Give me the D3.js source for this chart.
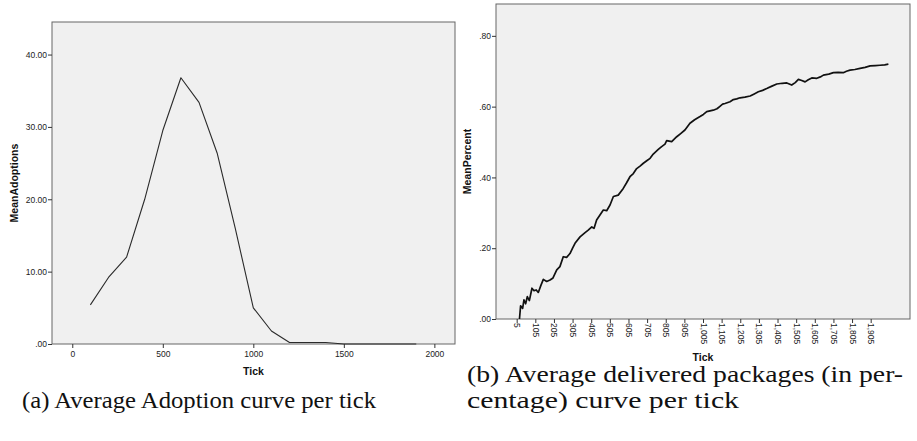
<!DOCTYPE html>
<html>
<head>
<meta charset="utf-8">
<script src="https://cdn.jsdelivr.net/npm/d3@7"></script>
<style>
body { margin: 0; background: #fff; }
.tick text { font-family: "Liberation Sans", Arial, sans-serif; font-size: 8.5px; fill: #222; }
.tick line { stroke: #333; }
.ttl { font-family: "Liberation Sans", Arial, sans-serif; font-size: 10.5px; font-weight: bold; fill: #111; }
</style>
</head>
<body>
<svg id="chart" width="917" height="441"></svg>
<script>
// (a) adoption per tick
var adoptTicks = [100, 200, 300, 400, 500, 600, 700, 800, 900, 1000, 1100, 1200, 1300, 1400, 1500, 1600, 1700, 1800, 1900];
var adoptVals  = [5.4, 9.2, 12.0, 20.0, 29.5, 36.8, 33.4, 26.4, 16.0, 5.0, 1.8, 0.2, 0.2, 0.2, 0, 0, 0, 0, 0];
var adoptXTicks = [0, 500, 1000, 1500, 2000];
var adoptYTicks = [0, 10, 20, 30, 40];

// (b) delivered percent per tick
var pctTicks = [20, 26, 37, 44, 53, 62, 73, 87, 98, 110, 121, 135, 148, 166, 184, 200, 220, 237, 255, 273,
  291, 305, 318, 345, 372, 389, 408, 420, 434, 452, 470, 488, 506, 524, 550, 577, 595, 613, 631, 649,
  667, 685, 703, 721, 738, 765, 783, 801, 810, 837, 864, 885, 908, 935, 960, 989, 1007, 1025, 1060, 1080,
  1096, 1110, 1123, 1150, 1168, 1186, 1204, 1230, 1258, 1280, 1302, 1325, 1347, 1375, 1401, 1430, 1455, 1481, 1500, 1517,
  1535, 1553, 1570, 1589, 1616, 1635, 1651, 1680, 1705, 1730, 1758, 1775, 1794, 1820, 1848, 1875, 1902, 1930, 1955, 1980, 2000];
var pctVals = [0, 0.037, 0.030, 0.054, 0.043, 0.063, 0.052, 0.087, 0.080, 0.082, 0.075, 0.095, 0.112, 0.106, 0.110, 0.116, 0.139, 0.148, 0.176, 0.174,
  0.185, 0.200, 0.214, 0.232, 0.244, 0.251, 0.260, 0.256, 0.280, 0.294, 0.308, 0.306, 0.322, 0.346, 0.350, 0.369, 0.385, 0.402, 0.411, 0.425,
  0.432, 0.440, 0.447, 0.454, 0.466, 0.479, 0.487, 0.494, 0.504, 0.501, 0.515, 0.524, 0.534, 0.553, 0.563, 0.572, 0.578, 0.586, 0.590, 0.594,
  0.601, 0.607, 0.609, 0.614, 0.620, 0.622, 0.625, 0.627, 0.630, 0.636, 0.642, 0.646, 0.651, 0.658, 0.664, 0.666, 0.667, 0.661, 0.668, 0.677,
  0.674, 0.670, 0.676, 0.681, 0.680, 0.684, 0.689, 0.692, 0.696, 0.697, 0.696, 0.700, 0.703, 0.705, 0.708, 0.711, 0.715, 0.716, 0.717, 0.718, 0.720];
var pctXTicks = d3.range(5, 2000, 100);
var pctYTicks = [0, 0.2, 0.4, 0.6, 0.8];

var svg = d3.select("#chart");

function panel(o) {
    var g = svg.append("g");
    var x = d3.scaleLinear().domain(o.xDomain).range([o.left, o.right]);
    var y = d3.scaleLinear().domain(o.yDomain).range([o.bottom, o.top]);

    g.append("rect")
        .attr("x", o.left).attr("y", o.top)
        .attr("width", o.right - o.left).attr("height", o.bottom - o.top)
        .attr("fill", "#f0f0f0").attr("stroke", "#666").attr("stroke-width", 1);

    var ya = g.append("g").attr("transform", "translate(" + o.left + ",0)")
        .call(d3.axisLeft(y).tickValues(o.yTicks).tickSize(4).tickPadding(1).tickFormat(o.yFmt));
    ya.select(".domain").remove();

    var xa = g.append("g").attr("transform", "translate(0," + o.bottom + ")")
        .call(d3.axisBottom(x).tickValues(o.xTicks).tickSize(4).tickPadding(3).tickFormat(o.xFmt));
    xa.select(".domain").remove();
    if (o.rotate) {
        xa.selectAll("text")
            .attr("transform", "rotate(90)")
            .attr("x", 4).attr("y", 0).attr("dy", "0.35em")
            .style("text-anchor", "start");
    }

    var line = d3.line()
        .x(function(d) { return x(d[0]); })
        .y(function(d) { return y(d[1]); });

    g.append("path")
        .datum(d3.zip(o.xs, o.ys))
        .attr("fill", "none")
        .attr("stroke", o.color)
        .attr("stroke-width", o.width)
        .attr("stroke-linejoin", "round")
        .attr("d", line);

    g.append("text").attr("class", "ttl")
        .attr("transform", "translate(" + o.yTitleX + "," + ((o.top + o.bottom) / 2) + ") rotate(-90)")
        .attr("text-anchor", "middle").attr("dy", "0.35em")
        .text(o.yTitle);
    g.append("text").attr("class", "ttl")
        .attr("x", (o.left + o.right) / 2).attr("y", o.xTitleY)
        .attr("text-anchor", "middle")
        .text("Tick");
}

panel({
    left: 52, right: 455, top: 22, bottom: 344,
    xDomain: [-112, 2114], yDomain: [0, 44.5],
    xTicks: adoptXTicks, yTicks: adoptYTicks,
    xFmt: d3.format("d"),
    yFmt: function(d) { return d === 0 ? ".00" : d3.format(".2f")(d); },
    xs: adoptTicks, ys: adoptVals,
    color: "#2a2a2a", width: 1.1,
    yTitle: "MeanAdoptions", yTitleX: 14, xTitleY: 375
});

panel({
    left: 496, right: 910, top: 4, bottom: 319,
    xDomain: [-106, 2116], yDomain: [0, 0.89],
    xTicks: pctXTicks, yTicks: pctYTicks,
    xFmt: d3.format(","), rotate: true,
    yFmt: function(d) { return d3.format(".2f")(d).replace(/^0/, ""); },
    xs: pctTicks, ys: pctVals,
    color: "#111", width: 1.7,
    yTitle: "MeanPercent", yTitleX: 467, xTitleY: 361
});

// captions
function caption(str, x, y, w) {
    svg.append("text")
        .attr("x", x).attr("y", y)
        .attr("font-family", "'Liberation Serif'")
        .attr("font-size", 23)
        .attr("fill", "#111")
        .attr("textLength", w).attr("lengthAdjust", "spacingAndGlyphs")
        .text(str);
}
caption("(a)  Average Adoption curve per tick", 22, 408, 354);
caption("(b)   Average  delivered  packages  (in  per-", 467, 382, 436);
caption("centage) curve per tick", 467, 408, 272);
</script>
</body>
</html>
